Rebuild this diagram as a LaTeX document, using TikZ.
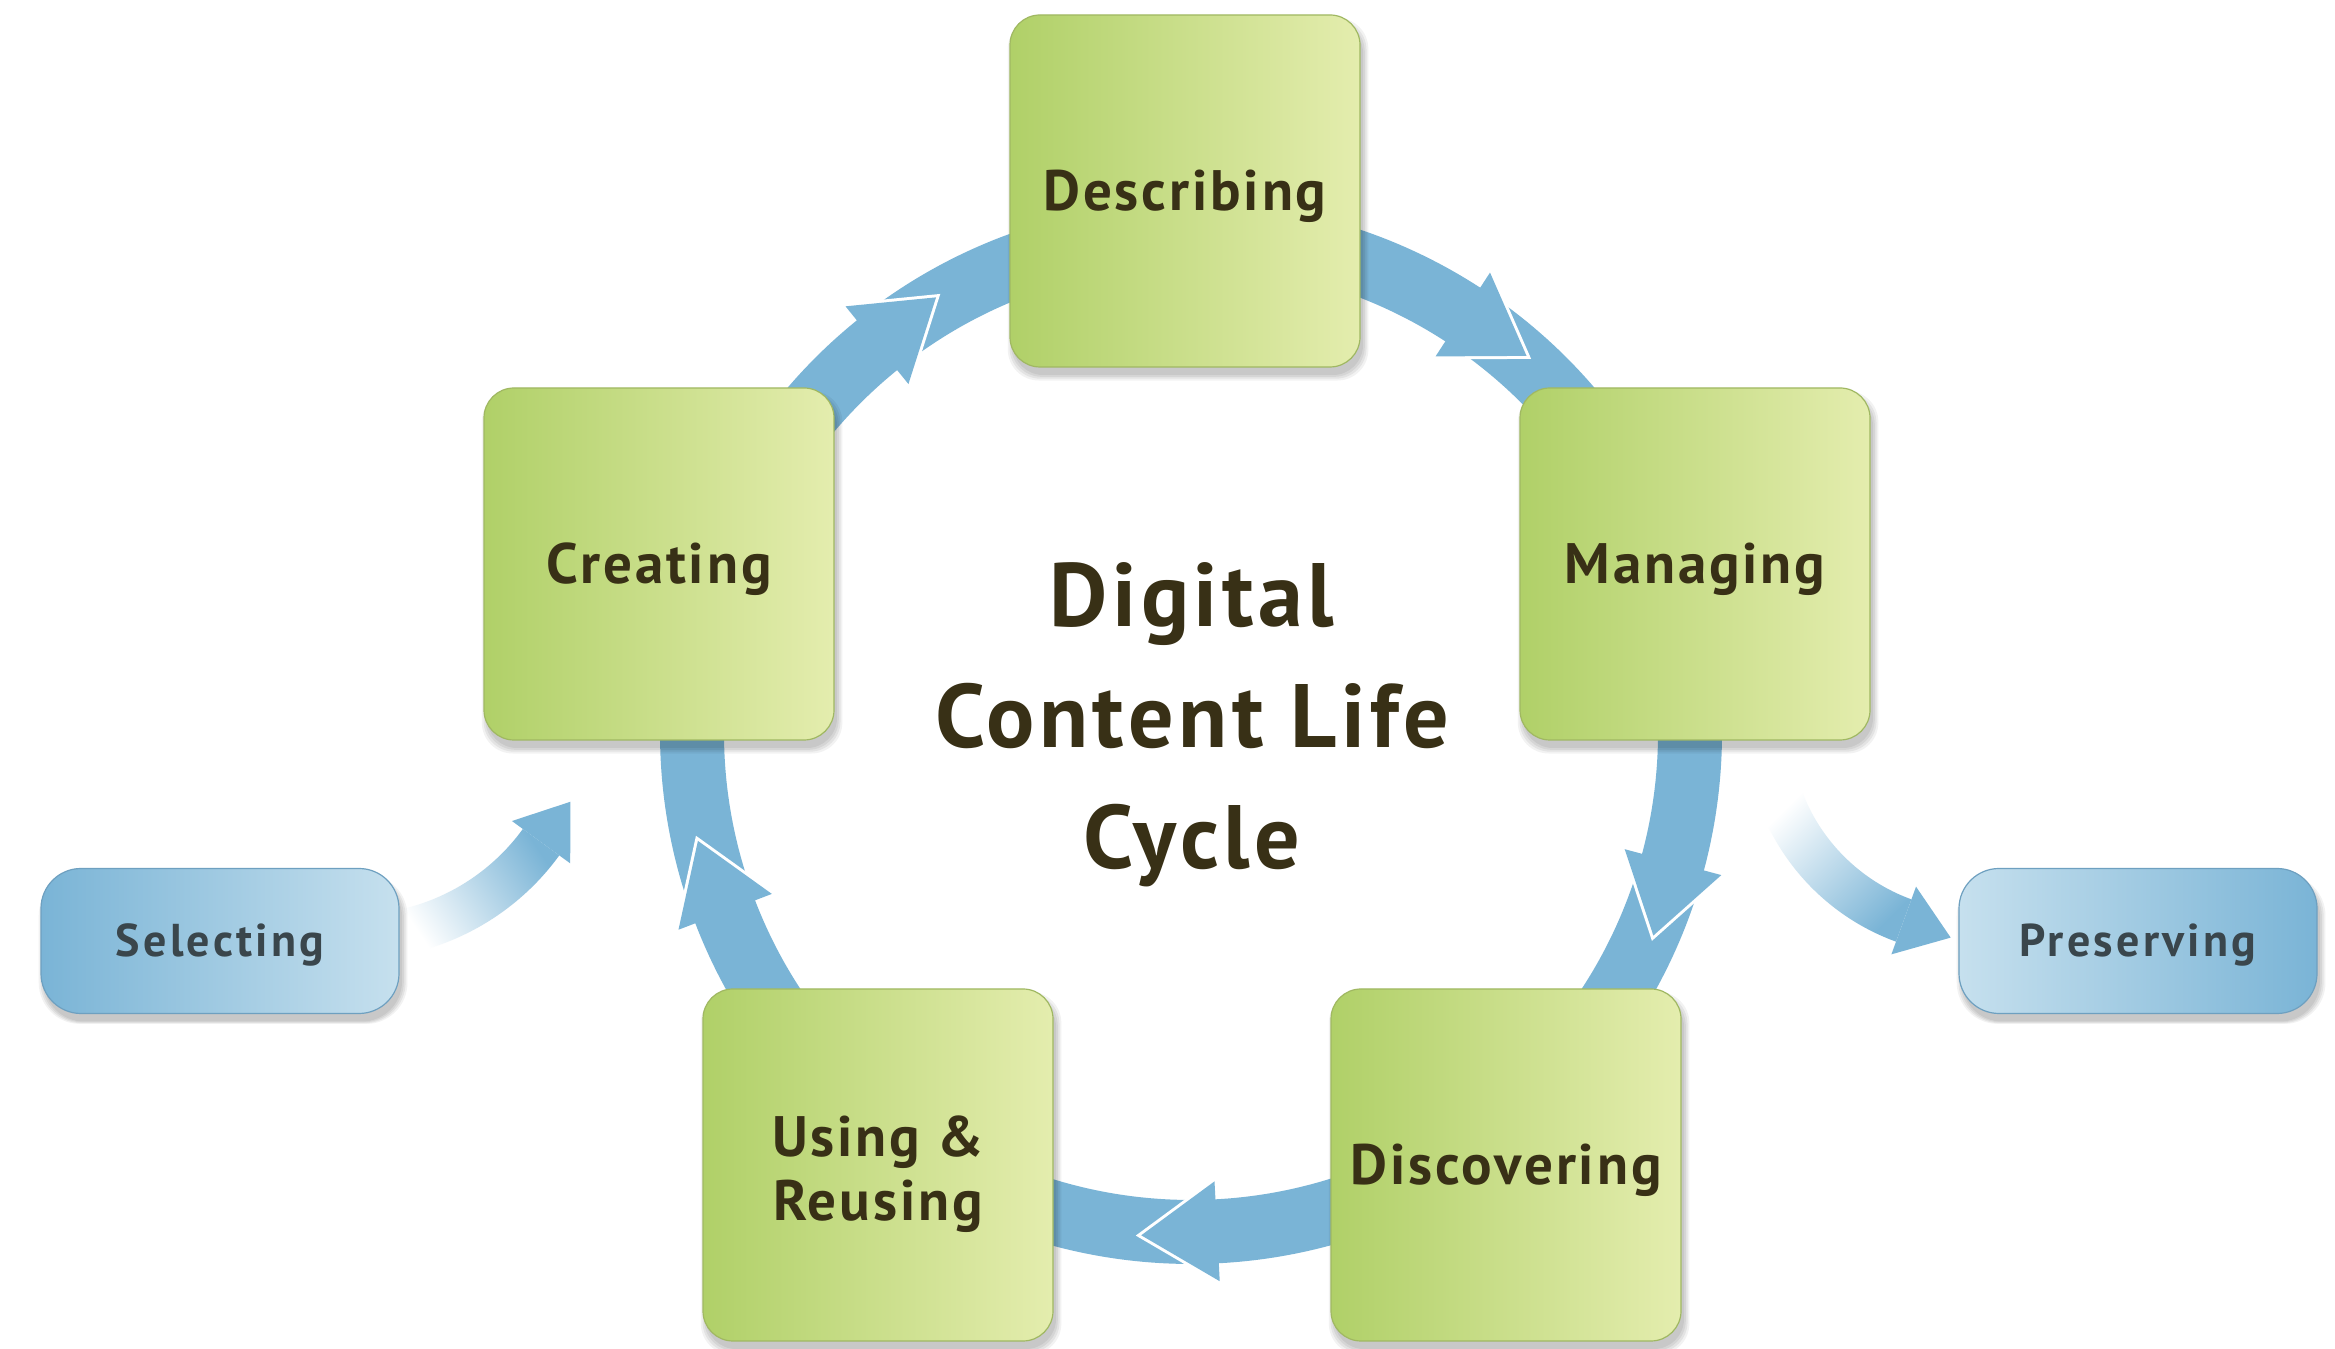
\documentclass[tikz,border=0pt]{standalone}
\usepackage{fontspec}
\setmainfont{PT Sans}[LetterSpace=5]
\usetikzlibrary{shadows,calc}
\definecolor{band}{RGB}{122,180,214}
\definecolor{gL}{RGB}{176,208,104}
\definecolor{gR}{RGB}{228,237,174}
\definecolor{gEdge}{RGB}{160,184,98}
\definecolor{bL}{RGB}{122,180,214}
\definecolor{bR}{RGB}{198,224,238}
\definecolor{bEdge}{RGB}{110,160,192}
\definecolor{txt}{RGB}{56,48,22}
\definecolor{btxt}{RGB}{58,70,76}
% arrow head on the ring: #1 = angle of the head's base
\newcommand\ringhead[1]{%
  \draw[white, line width=6pt, line join=miter]
    ($(O)+(#1:549)$) -- ($(O)+(#1:499)+(#1-90:76)$) -- ($(O)+(#1:449)$);
  \fill[band] ($(O)+(#1:549)$) -- ($(O)+(#1:499)+(#1-90:76)$) -- ($(O)+(#1:449)$) -- cycle;
}
\begin{document}
\begin{tikzpicture}[x=1pt,y=1pt,
  softshadow/.style={
    general shadow={fill=black,opacity=0.06,shadow xshift=3pt,shadow yshift=-8pt,shadow scale=1.0},
    general shadow={fill=black,opacity=0.06,shadow xshift=3pt,shadow yshift=-8pt,shadow scale=1.01},
    general shadow={fill=black,opacity=0.06,shadow xshift=3pt,shadow yshift=-8pt,shadow scale=1.02},
    general shadow={fill=black,opacity=0.05,shadow xshift=3pt,shadow yshift=-8pt,shadow scale=1.03}},
  gbox/.style={rounded corners=30pt, minimum width=350pt, minimum height=352pt,
    left color=gL, right color=gR, draw=gEdge, line width=1.2pt, softshadow,
    font=\fontsize{57}{64}\selectfont\bfseries, text=txt, inner sep=0pt},
  bbox/.style={rounded corners=40pt, minimum width=358pt, minimum height=145pt,
    draw=bEdge, line width=1.2pt, softshadow,
    font=\fontsize{46}{52}\selectfont\bfseries\addfontfeatures{LetterSpace=7}, text=btxt, inner sep=0pt,
    text height=32pt, text depth=0pt},
  oneline/.style={text height=40pt, text depth=0pt},
  ring/.style={band, line width=64pt},
  ctext/.style={font=\fontsize{90}{121}\selectfont\bfseries, text=txt, align=center}]

\useasboundingbox (0,0) rectangle (2335,1349);
\fill[white] (0,0) rectangle (2335,1349);

\coordinate (O) at (1191,616);
% ring end points (under the boxes)
\coordinate (rD) at ($(O)+(90.6:499)$);
\coordinate (rM) at ($(O)+(18.5:499)$);
\coordinate (rDi) at ($(O)+(-53.9:499)$);
\coordinate (rU) at ($(O)+(-125.9:499)$);
\coordinate (rC) at ($(O)+(162.4:499)$);

% ring connectors
\draw[ring] (rD) arc[start angle=90.6, end angle=18.5, radius=499];
\draw[ring] (rM) arc[start angle=18.5, end angle=-53.9, radius=499];
\draw[ring] (rDi) arc[start angle=-53.9, end angle=-125.9, radius=499];
\draw[ring] (rU) arc[start angle=234.1, end angle=162.4, radius=499];
\draw[ring] (rC) arc[start angle=162.4, end angle=90.6, radius=499];

\ringhead{57}
\ringhead{-15}
\ringhead{-87}
\ringhead{201}
\ringhead{129}

% side arrows
\coordinate (C1) at (355,642);
\shade[top color=white, bottom color=band, shading angle=124]
  ($(C1)+(-78:207.5)$) arc[start angle=-78, end angle=-36, radius=207.5]
  -- ($(C1)+(-36:252.5)$) arc[start angle=-36, end angle=-78, radius=252.5] -- cycle;
\fill[band] ($(C1)+(-36:266)$) -- ($(C1)+(-36:230)+(54:50)$) -- ($(C1)+(-36:194)$) -- cycle;

\coordinate (C2) at (1974.5,623);
\shade[top color=white, bottom color=band, shading angle=45]
  ($(C2)+(200:184.5)$) arc[start angle=200, end angle=250, radius=184.5]
  -- ($(C2)+(250:229.5)$) arc[start angle=250, end angle=200, radius=229.5] -- cycle;
\fill[band] ($(C2)+(250:171)$) -- ($(C2)+(250:207)+(-20:50)$) -- ($(C2)+(250:243)$) -- cycle;

% boxes
\node[gbox, oneline] (describing) at (1185,1158) {Describing};
\node[gbox, oneline] (creating) at (659,785) {Creating};
\node[gbox, oneline] (managing) at (1695,785) {Managing};
\node[gbox] (using) at (878,184)
  {\raisebox{-17pt}[0pt][0pt]{\begin{tabular}{@{}c@{}}Using \&\\Reusing\end{tabular}}};
\node[gbox, oneline] (discovering) at (1506,184) {Discovering};
\node[bbox, left color=bL, right color=bR] (selecting) at (220,408) {Selecting};
\node[bbox, left color=bR, right color=bL] (preserving) at (2138,408) {Preserving};

\node[ctext] (title) at (1192,624) {Digital\\Content Life\\Cycle};
\end{tikzpicture}
\end{document}
